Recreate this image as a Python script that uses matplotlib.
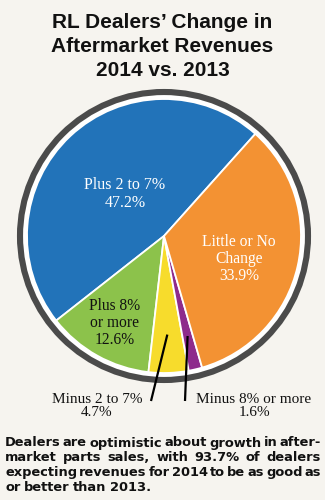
import matplotlib
matplotlib.use("Agg")
import matplotlib.pyplot as plt
from matplotlib.patches import Circle
import numpy as np

# Survey results: change in aftermarket revenues, 2014 vs. 2013
categories = ["Plus 2 to 7%", "Plus 8%\nor more", "Minus 2 to 7%", "Minus 8% or more", "Little or No\nChange"]
shares = [47.2, 12.6, 4.7, 1.6, 33.9]
colors = ["#2273b9", "#8cc24b", "#f7dc2c", "#8e2b8c", "#f39233"]

title_lines = ["RL Dealers\u2019 Change in", "Aftermarket Revenues", "2014 vs. 2013"]
note_lines = [
    "Dealers are optimistic about growth in after-",
    "market parts sales, with 93.7% of dealers",
    "expecting revenues for 2014 to be as good as",
    "or better than 2013.",
]

BG = "#f6f4ef"
W, H = 325, 500

fig = plt.figure(figsize=(W / 100, H / 100), dpi=100, facecolor=BG)
ax = fig.add_axes([0, 0, 1, 1])
ax.set_facecolor(BG)

def Y(y):
    # top-down pixel row -> axes y
    return H - y

cx, cy, r = 164, Y(236), 137

# white band and dark rim around the pie
ax.add_patch(Circle((cx, cy), r + 4, facecolor="white", edgecolor="none", zorder=1))
ax.add_patch(Circle((cx, cy), r + 7, facecolor="none", edgecolor="#4b4b4b",
                    linewidth=4.4, zorder=1))

start = 48.2
wedges, _ = ax.pie(shares, colors=colors, startangle=start, counterclock=True,
                   center=(cx, cy), radius=r, frame=True,
                   wedgeprops=dict(edgecolor="white", linewidth=1.3, zorder=2))

serif = ["Liberation Serif", "DejaVu Serif"]
sans = ["Liberation Sans", "DejaVu Sans"]

# in-slice labels
ax.text(125, Y(194), f"{categories[0]}\n{shares[0]:.1f}%", color="white", fontsize=11.5,
        family=serif, ha="center", va="center", linespacing=1.15, zorder=5)
ax.text(239, Y(259), f"{categories[4]}\n{shares[4]:.1f}%", color="white", fontsize=11.2,
        family=serif, ha="center", va="center", linespacing=1.1, zorder=5)
ax.text(115, Y(323), f"{categories[1]}\n{shares[1]:.1f}%", color="#111111", fontsize=11.2,
        family=serif, ha="center", va="center", linespacing=1.1, zorder=5)

# outside labels with leader lines to the two small slices
ax.text(97, Y(406), f"{categories[2]}\n{shares[2]:.1f}%", color="#111111", fontsize=11,
        family=serif, ha="center", va="center", linespacing=1.05, zorder=5)
ax.text(254, Y(406), f"{categories[3]}\n{shares[3]:.1f}%", color="#111111", fontsize=11,
        family=serif, ha="center", va="center", linespacing=1.05, zorder=5)

def mid_angle(i):
    before = sum(shares[:i])
    return np.deg2rad(start + 360 * (before + shares[i] / 2) / sum(shares))

for i, (x0, y0, rr) in [(2, (151, Y(401), 0.72)), (3, (185, Y(401), 0.75))]:
    a = mid_angle(i)
    ax.plot([x0, cx + rr * r * np.cos(a)], [y0, cy + rr * r * np.sin(a)],
            color="black", linewidth=1.6, solid_capstyle="butt", zorder=6)

# title
for line, base in zip(title_lines, [28.5, 52.5, 75.5]):
    ax.text(162.5, Y(base), line, fontsize=15, fontweight="bold", family=sans,
            ha="center", va="baseline", color="#111111", zorder=5)

# justified note under the chart
ax.set_xlim(0, W)
ax.set_ylim(0, H)
ax.set_aspect("equal")
ax.axis("off")
renderer = fig.canvas.get_renderer()
note_font = ["DejaVu Sans"]
left, right = 5, 321
for k, (line, base) in enumerate(zip(note_lines, [446.5, 461.3, 476.1, 490.9])):
    words = line.split(" ")
    objs = [ax.text(0, Y(base), w, fontsize=9.4, fontweight="bold", family=note_font,
                    ha="left", va="baseline", color="#111111") for w in words]
    widths = [o.get_window_extent(renderer).width for o in objs]
    if k < len(note_lines) - 1 and len(words) > 1:
        gap = (right - left - sum(widths)) / (len(words) - 1)
    else:
        gap = 3.5
    x = left
    for o, w in zip(objs, widths):
        o.set_x(x)
        x += w + gap

fig.savefig("out.png", dpi=100, facecolor=BG)
